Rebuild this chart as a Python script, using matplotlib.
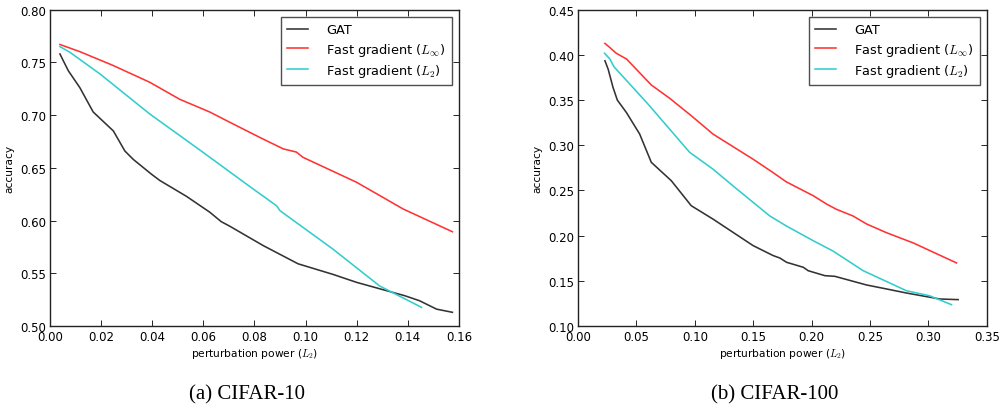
import matplotlib
matplotlib.use("Agg")
import matplotlib.pyplot as plt

# ---- CIFAR-10 data ----
c10_gat_x = [0.0039, 0.0052, 0.0072, 0.0117, 0.0169, 0.0248, 0.0293, 0.0326, 0.0397, 0.043, 0.0534, 0.0625,
             0.067, 0.0704, 0.0835, 0.0971, 0.1107, 0.1200, 0.1389, 0.1446, 0.1513, 0.1575]
c10_gat_y = [0.758, 0.7516, 0.742, 0.726, 0.703, 0.685, 0.666, 0.658, 0.644, 0.638, 0.623, 0.608,
             0.599, 0.5946, 0.5762, 0.559, 0.549, 0.5414, 0.5287, 0.524, 0.516, 0.513]
c10_linf_x = [0.0039, 0.0117, 0.0248, 0.0391, 0.0508, 0.0625, 0.0704, 0.082, 0.0913, 0.0964, 0.099, 0.1200,
              0.1303, 0.1382, 0.1575]
c10_linf_y = [0.767, 0.7602, 0.747, 0.7311, 0.715, 0.703, 0.6932, 0.679, 0.668, 0.665, 0.660, 0.6363,
              0.622, 0.611, 0.5894]
c10_l2_x = [0.0039, 0.0078, 0.0196, 0.0391, 0.0586, 0.0704, 0.0795, 0.0887, 0.0900, 0.1107, 0.1290, 0.1454]
c10_l2_y = [0.765, 0.7596, 0.739, 0.701, 0.667, 0.6461, 0.630, 0.614, 0.6094, 0.573, 0.538, 0.5177]

# ---- CIFAR-100 data ----
c100_gat_x = [0.0231, 0.0259, 0.0300, 0.0337, 0.0416, 0.0528, 0.0628, 0.0799, 0.0970, 0.1155, 0.1499, 0.1670,
              0.1729, 0.1786, 0.1929, 0.1971, 0.2114, 0.2199, 0.2471, 0.2642, 0.2813, 0.3098, 0.3255]
c100_gat_y = [0.3935, 0.384, 0.3641, 0.350, 0.336, 0.3125, 0.2811, 0.2608, 0.2331, 0.2184, 0.189, 0.178,
              0.1752, 0.1705, 0.165, 0.1612, 0.1557, 0.155, 0.1454, 0.1410, 0.1365, 0.1299, 0.1292]
c100_linf_x = [0.0231, 0.0274, 0.0328, 0.0416, 0.0628, 0.0787, 0.0970, 0.1157, 0.1499, 0.167, 0.1784,
               0.2014, 0.2128, 0.2212, 0.2354, 0.2471, 0.2639, 0.2871, 0.3241]
c100_linf_y = [0.4127, 0.408, 0.4018, 0.3954, 0.3667, 0.3518, 0.3327, 0.3123, 0.2846, 0.2698, 0.2595,
               0.2442, 0.235, 0.2292, 0.2218, 0.2129, 0.2034, 0.1919, 0.1698]
c100_l2_x = [0.0228, 0.0274, 0.0308, 0.0599, 0.0956, 0.1157, 0.1328, 0.1642, 0.1784, 0.2014, 0.2183,
             0.2442, 0.2813, 0.3010, 0.3198]
c100_l2_y = [0.4018, 0.3953, 0.3869, 0.3457, 0.2922, 0.2735, 0.255, 0.2218, 0.2107, 0.1944, 0.183,
             0.1612, 0.139, 0.1335, 0.1236]

labels = ["GAT", r"Fast gradient ($L_\infty$)", r"Fast gradient ($L_2$)"]
colors = ["#333333", "#ff3333", "#33cccc"]

plt.rcParams["mathtext.fontset"] = "cm"
plt.rcParams["font.family"] = "DejaVu Sans"

fig = plt.figure(figsize=(10.02, 4.10), dpi=100)
fig.patch.set_facecolor("white")

panels = [
    (0.0499, (c10_gat_x, c10_gat_y), (c10_linf_x, c10_linf_y), (c10_l2_x, c10_l2_y),
     (0, 0.16), [0, 0.02, 0.04, 0.06, 0.08, 0.10, 0.12, 0.14, 0.16],
     (0.5, 0.8), [0.50, 0.55, 0.60, 0.65, 0.70, 0.75, 0.80], "(a) CIFAR-10", 247),
    (0.5768, (c100_gat_x, c100_gat_y), (c100_linf_x, c100_linf_y), (c100_l2_x, c100_l2_y),
     (0, 0.35), [0, 0.05, 0.10, 0.15, 0.20, 0.25, 0.30, 0.35],
     (0.1, 0.45), [0.10, 0.15, 0.20, 0.25, 0.30, 0.35, 0.40, 0.45], "(b) CIFAR-100", 775),
]

for left, g, li, l2, xl, xt, yl, yt, cap, capx in panels:
    ax = fig.add_axes([left, 0.2024, 0.408, 0.7715])
    for (xs, ys), c, lab in zip([g, li, l2], colors, labels):
        ax.plot(xs, ys, color=c, lw=1.15, label=lab)
    ax.set_xlim(*xl)
    ax.set_ylim(*yl)
    ax.set_xticks(xt)
    ax.set_yticks(yt)
    ax.set_xticklabels(["%.2f" % v for v in xt])
    ax.set_yticklabels(["%.2f" % v for v in yt])
    ax.tick_params(direction="in", top=True, right=True, labelsize=8.5, length=4, width=0.6,
                   colors="black", pad=3)
    for s in ax.spines.values():
        s.set_linewidth(1.0)
        s.set_color("#222222")
    ax.set_xlabel(r"perturbation power ($L_2$)", fontsize=7.7, labelpad=2)
    ax.set_ylabel("accuracy", fontsize=7.7, labelpad=4)
    leg = ax.legend(loc="upper right", fontsize=9.3, frameon=True, fancybox=False,
                    handlelength=1.6, handletextpad=1.4, borderpad=0.5, labelspacing=0.33,
                    borderaxespad=0.55)
    leg.get_frame().set_edgecolor("#222222")
    leg.get_frame().set_linewidth(1.0)
    fig.text(capx / 1002, 1 - 395 / 410, cap, ha="center", va="center",
             fontsize=15, family="Liberation Serif")

fig.savefig("out.png", dpi=100, facecolor="white")
